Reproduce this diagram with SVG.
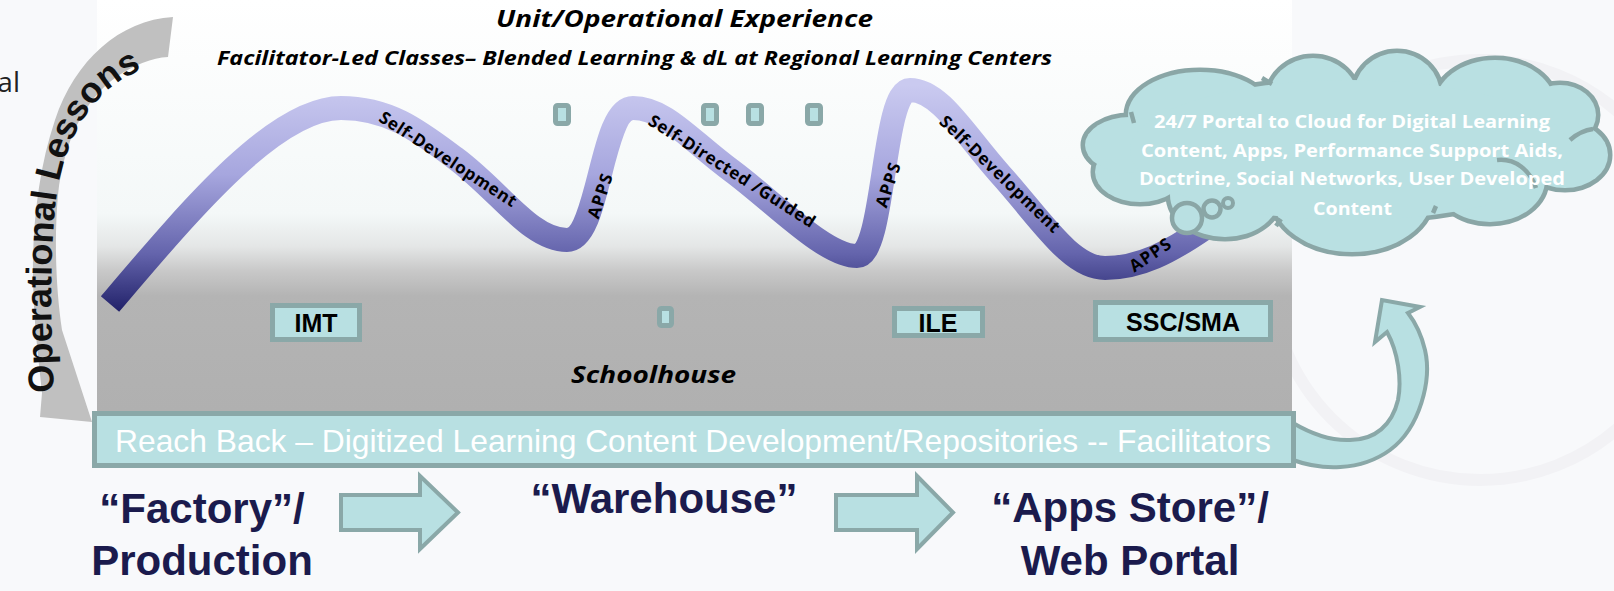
<svg xmlns="http://www.w3.org/2000/svg" width="1614" height="591" viewBox="0 0 1614 591">
<defs>
<linearGradient id="panelG" gradientUnits="userSpaceOnUse" x1="0" y1="0" x2="0" y2="411">
<stop offset="0" stop-color="#ffffff"/>
<stop offset="0.52" stop-color="#f4f8f8"/>
<stop offset="0.6" stop-color="#e4e6e6"/>
<stop offset="0.66" stop-color="#c8c8c8"/>
<stop offset="0.72" stop-color="#b4b4b4"/>
<stop offset="1" stop-color="#b0b0b0"/>
</linearGradient>
<linearGradient id="ribG" gradientUnits="userSpaceOnUse" x1="0" y1="85" x2="0" y2="310">
<stop offset="0" stop-color="#cacaf0"/>
<stop offset="0.4" stop-color="#a6a6de"/>
<stop offset="0.75" stop-color="#6464ac"/>
<stop offset="1" stop-color="#23236b"/>
</linearGradient>
<g id="cloudShapes">
<ellipse cx="1200" cy="115" rx="72" ry="43"/>
<ellipse cx="1313" cy="100" rx="45" ry="42"/>
<ellipse cx="1397" cy="95" rx="43" ry="42"/>
<ellipse cx="1495" cy="105" rx="60" ry="45"/>
<ellipse cx="1560" cy="115" rx="36" ry="30"/>
<ellipse cx="1565" cy="155" rx="43" ry="33"/>
<ellipse cx="1490" cy="180" rx="55" ry="42"/>
<ellipse cx="1352" cy="195" rx="80" ry="57"/>
<ellipse cx="1225" cy="195" rx="55" ry="42"/>
<ellipse cx="1140" cy="172" rx="45" ry="30"/>
<ellipse cx="1130" cy="145" rx="45" ry="28"/>
<ellipse cx="1350" cy="150" rx="220" ry="70"/>
</g>
<style>
.box{fill:#b8e0e2;stroke:#8aa8a8;stroke-width:5}
.flow{fill:#b8e0e2;stroke:#8aa8a8;stroke-width:4;stroke-linejoin:miter}
.hdr{font-family:"Open Sans","Noto Sans",sans-serif;font-weight:bold;font-style:italic;fill:#000}
.rl{font-family:"Open Sans","Noto Sans",sans-serif;font-weight:bold;font-size:17px;fill:#000;text-anchor:middle}
.bx{font-family:"Liberation Sans",Arial,sans-serif;font-weight:bold;font-size:25px;fill:#000;text-anchor:middle}
.big{font-family:"Liberation Sans",Arial,sans-serif;font-weight:bold;font-size:42px;fill:#1b1b4d;text-anchor:middle}
.cl{font-family:"Open Sans","Noto Sans",sans-serif;font-weight:bold;font-size:17px;fill:#ffffff}
.tick{fill:none;stroke:#8aa6a6;stroke-width:4.5}
</style>
</defs>

<rect x="0" y="0" width="1614" height="591" fill="#f8f9fb"/>
<g id="watermark" fill="none" stroke="#f2f2f5" stroke-width="12">
<circle cx="1480" cy="270" r="210"/>
</g>

<rect id="panel" x="97" y="0" width="1195" height="411" fill="url(#panelG)"/>

<g id="titles">
<text class="hdr" x="496" y="27" font-size="24" textLength="377" lengthAdjust="spacingAndGlyphs">Unit/Operational Experience</text>
<text class="hdr" x="217" y="65" font-size="19" textLength="835" lengthAdjust="spacingAndGlyphs">Facilitator-Led Classes– Blended Learning &amp; dL at Regional Learning Centers</text>
<text class="hdr" x="571" y="383" font-size="24" textLength="165" lengthAdjust="spacingAndGlyphs">Schoolhouse</text>
</g>

<g id="left-text">
<text x="20" y="92" text-anchor="end" font-family="Open Sans, Noto Sans, sans-serif" font-size="28" fill="#222">al</text>
</g>

<g id="ribbon">
<path d="M110,304 C190,210 275,108 341,108 C390,108 420,132 455,158 C500,191 530,240 567,240 C600,240 600,108 633,108 C665,108 690,140 732,171 C775,203 825,256 857,256 C885,256 882,90 910,90 C940,90 965,135 1000,174 C1040,218 1070,268 1105,268 C1140,268 1170,252 1205,228" fill="none" stroke="url(#ribG)" stroke-width="24"/>
<text class="rl" transform="translate(448,159) rotate(33)" dy="6" textLength="160" lengthAdjust="spacing">Self-Development</text>
<text class="rl" transform="translate(600,196) rotate(-72)" dy="6" textLength="46" lengthAdjust="spacing">APPS</text>
<text class="rl" transform="translate(732,171) rotate(32.5)" dy="6" textLength="194" lengthAdjust="spacing">Self-Directed /Guided</text>
<text class="rl" transform="translate(888,185) rotate(-72)" dy="6" textLength="46" lengthAdjust="spacing">APPS</text>
<text class="rl" transform="translate(1000,174) rotate(44)" dy="6" textLength="160" lengthAdjust="spacing">Self-Development</text>
<text class="rl" transform="translate(1150,255) rotate(-34)" dy="6" textLength="46" lengthAdjust="spacing">APPS</text>
</g>

<g id="markers">
<rect class="box" x="555.5" y="105.5" width="13" height="18" rx="2" stroke-width="5"/>
<rect class="box" x="703.5" y="105.5" width="13" height="18" rx="2" stroke-width="5"/>
<rect class="box" x="748.5" y="105.5" width="13" height="18" rx="2" stroke-width="5"/>
<rect class="box" x="807.5" y="105.5" width="13" height="18" rx="2" stroke-width="5"/>
<rect class="box" x="659.5" y="308.5" width="12" height="17" rx="2" stroke-width="5"/>
</g>

<g id="node-imt">
<rect class="box" x="272.5" y="305.5" width="87" height="34"/>
<text class="bx" x="316" y="332">IMT</text>
</g>
<g id="node-ile">
<rect class="box" x="894.5" y="308.5" width="88" height="27"/>
<text class="bx" x="938" y="332">ILE</text>
</g>
<g id="node-ssc">
<rect class="box" x="1095.5" y="302.5" width="175" height="37"/>
<text class="bx" x="1183" y="331">SSC/SMA</text>
</g>

<g id="connectors">
<path id="ol-arrow" d="M173,17 C120,20 75,60 55,120 C38,170 32,230 33,280 C34,330 40,370 42,393 L40,417 L92,422 L62,330 C56,290 54,240 58,195 C64,140 85,100 115,78 C135,64 152,58 168,57 Z" fill="#c0c0c0"/>
<path id="olp" d="M54,392 C51,330 49,262 56,200 C64,140 90,98 125,78 C142,68 160,62 195,57" fill="none"/>
<text font-family="Liberation Sans, Arial, sans-serif" font-weight="bold" font-size="36" fill="#111"><textPath href="#olp">Operational Lessons</textPath></text>
<path id="up-arrow" class="flow" d="M1293,460 C1320,470 1360,472 1390,450 C1420,428 1432,380 1425,350 C1421,333 1415,322 1408,313 L1420,307 L1382,300 L1375,342 L1387,332 C1398,352 1402,380 1398,400 C1392,425 1375,440 1350,440 C1330,441 1310,433 1293,423 Z"/>
<path id="arrow-1" class="flow" d="M341,495 L420,495 L420,476 L458,512.5 L420,549 L420,530 L341,530 Z"/>
<path id="arrow-2" class="flow" d="M836,495 L917,495 L917,476 L953,512.5 L917,549 L917,530 L836,530 Z"/>
</g>

<g id="node-reachback">
<rect class="box" x="94.5" y="413.5" width="1199" height="52"/>
<text x="115" y="452" font-family="Liberation Sans, Arial, sans-serif" font-size="31.8" fill="#ffffff">Reach Back – Digitized Learning Content Development/Repositories -- Facilitators</text>
</g>

<g id="node-cloud">
<use href="#cloudShapes" fill="#b9e0e2" stroke="#8aa6a6" stroke-width="9"/>
<use href="#cloudShapes" fill="#b9e0e2" stroke="none"/>
<path class="tick" d="M1497,160 C1515,158 1530,170 1536,188"/>
<path class="tick" d="M1570,140 C1578,133 1585,130 1593,129"/>
<path class="tick" d="M1131,112 l3,11"/>
<path class="tick" d="M1262,78 l10,6"/>
<path class="tick" d="M1433,213 l3,-7"/>
<path class="tick" d="M1276,226 l5,-7"/>
<circle cx="1187" cy="218" r="15" fill="#b9e0e2" stroke="#8aa6a6" stroke-width="4.5"/>
<circle cx="1212" cy="209" r="8.5" fill="#b9e0e2" stroke="#8aa6a6" stroke-width="4.5"/>
<circle cx="1228" cy="203" r="5" fill="#b9e0e2" stroke="#8aa6a6" stroke-width="4"/>
<text class="cl" x="1154" y="128" textLength="396" lengthAdjust="spacingAndGlyphs">24/7 Portal to Cloud for Digital Learning</text>
<text class="cl" x="1141" y="157" textLength="422" lengthAdjust="spacingAndGlyphs">Content, Apps, Performance Support Aids,</text>
<text class="cl" x="1139" y="185" textLength="426" lengthAdjust="spacingAndGlyphs">Doctrine, Social Networks, User Developed</text>
<text class="cl" x="1313" y="215" textLength="79" lengthAdjust="spacingAndGlyphs">Content</text>
</g>

<g id="node-factory">
<text class="big" x="202" y="523">“Factory”/</text>
<text class="big" x="202" y="575" fill="#0a0a0a">Production</text>
</g>
<g id="node-warehouse">
<text class="big" x="664" y="513">“Warehouse”</text>
</g>
<g id="node-appstore">
<text class="big" x="1130" y="522">“Apps Store”/</text>
<text class="big" x="1130" y="575">Web Portal</text>
</g>
</svg>
